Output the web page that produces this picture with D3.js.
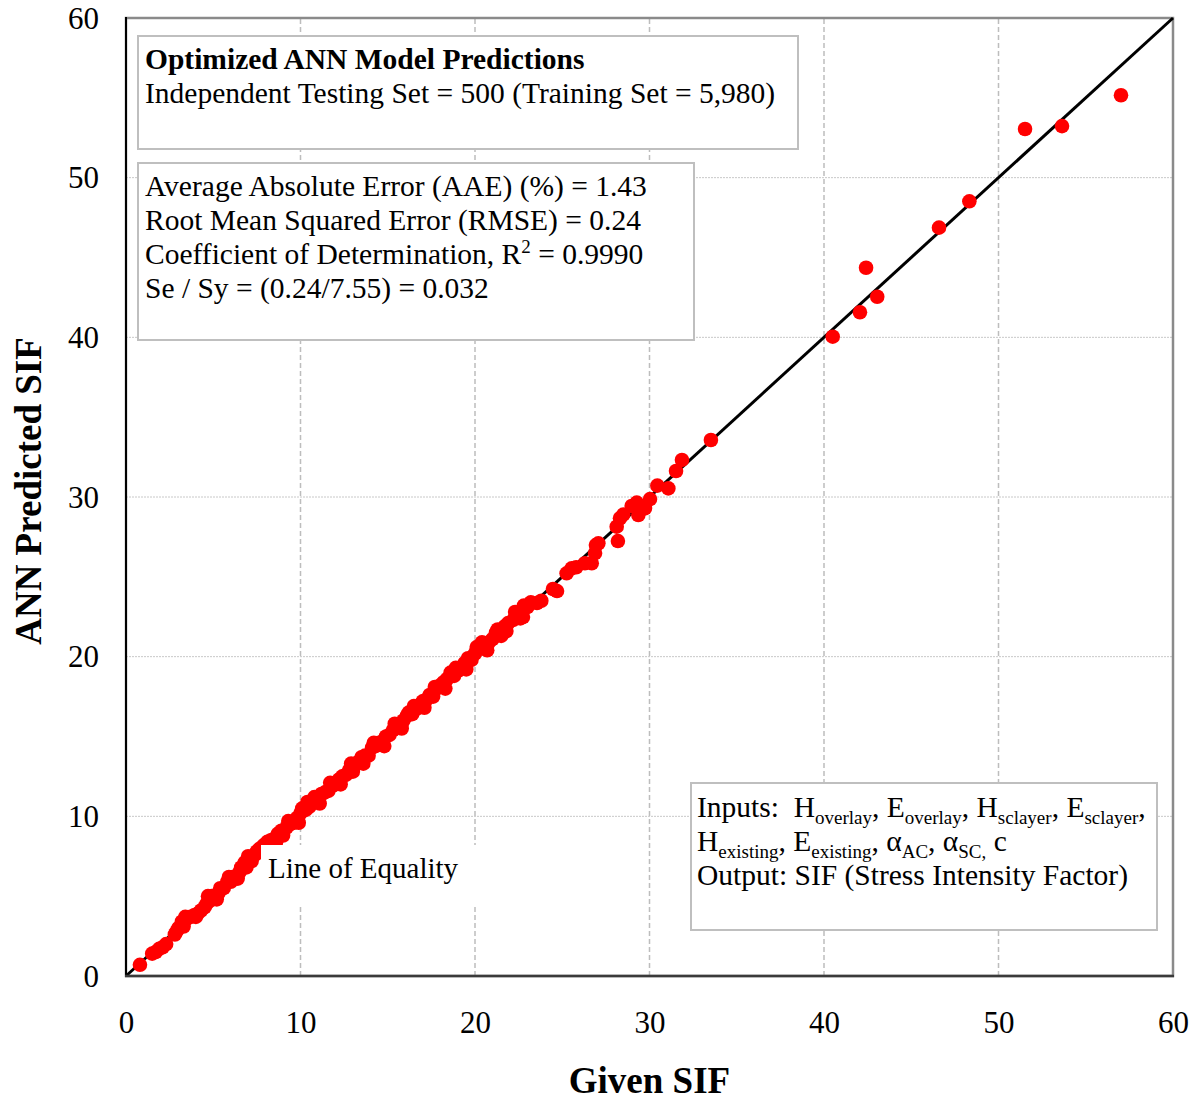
<!DOCTYPE html>
<html>
<head>
<meta charset="utf-8">
<script src="https://cdn.jsdelivr.net/npm/d3@7"></script>
<style>
	body { margin: 0; background: #fff; }
	svg { display: block; font-family: "Times New Roman", "Liberation Serif", serif; }
</style>
</head>
<body>
<svg id="chart" width="1198" height="1101"></svg>
<script>
// [given SIF, ANN predicted SIF] for the testing set
var denseBand = [
	[0.8, 0.7], [1.5, 1.4], [1.7, 1.5], [1.9, 1.7], [2.1, 1.8], [2.3, 2.0],
	[2.8, 2.6], [2.9, 2.8], [3.0, 3.0], [3.2, 3.4], [3.3, 3.1], [3.5, 3.6],
	[3.7, 3.7], [3.9, 3.8], [4.1, 3.9], [4.3, 4.1], [4.5, 4.3], [4.6, 4.5],
	[4.8, 4.7], [4.9, 5.0], [5.1, 4.9], [5.3, 5.2], [5.4, 5.5], [5.6, 5.5],
	[5.8, 5.9], [6.0, 5.9], [6.1, 6.2], [6.3, 6.2], [6.5, 6.5], [6.6, 6.8],
	[6.8, 7.1], [6.9, 6.8], [7.1, 7.4], [7.2, 7.2], [7.4, 7.6], [7.5, 7.8],
	[7.7, 8.0], [7.9, 8.2], [8.1, 8.4], [8.3, 8.5], [8.5, 8.6], [8.7, 8.9],
	[8.9, 9.1], [9.0, 8.8], [9.2, 9.3], [9.4, 9.5], [9.6, 9.6], [9.8, 9.9],
	[10.0, 10.2], [10.1, 10.5], [10.3, 10.4], [10.5, 10.6], [10.7, 10.9], [10.8, 11.2],
	[11.0, 11.1], [11.2, 11.4], [11.4, 11.5], [11.6, 11.6], [11.8, 11.9], [12.0, 12.0],
	[12.2, 12.3], [12.4, 12.5], [12.6, 12.6], [12.8, 12.9], [13.0, 12.8], [13.1, 13.2],
	[13.3, 13.4], [13.5, 13.7], [13.7, 13.8], [13.9, 13.8], [14.1, 14.3], [14.3, 14.4],
	[14.5, 14.6], [14.7, 14.7], [14.9, 15.0], [15.1, 15.1], [15.3, 15.4], [15.5, 15.6],
	[15.7, 15.8], [15.9, 16.0], [16.1, 16.3], [16.2, 16.5], [16.4, 16.4], [16.6, 16.7],
	[16.8, 16.9], [17.0, 17.2], [17.2, 17.3], [17.4, 17.6], [17.6, 17.5], [17.8, 18.0],
	[18.0, 18.2], [18.2, 18.4], [18.4, 18.6], [18.6, 19.0], [18.8, 18.8], [19.0, 19.1],
	[19.2, 19.3], [19.4, 19.6], [19.6, 19.9], [19.8, 19.8], [20.0, 20.2], [20.2, 20.5],
	[20.4, 20.9], [20.6, 20.7], [20.8, 20.9], [21.0, 21.1], [21.2, 21.5], [21.5, 21.3],
	[21.7, 21.9], [21.9, 22.1], [22.2, 22.3], [22.4, 22.6], [22.6, 22.4], [22.8, 23.2]
];
// points sitting a little off the main band, which make it wider
var bandSpread = [
	[3.4, 3.7], [4.0, 3.7], [4.7, 5.0], [5.2, 4.8], [5.9, 6.2], [6.4, 6.1],
	[7.0, 7.5], [7.6, 7.9], [8.6, 8.4], [9.3, 9.7], [9.9, 9.6], [10.4, 10.9],
	[11.1, 10.8], [11.7, 12.1], [12.3, 12.0], [12.9, 13.3], [13.6, 13.3], [14.2, 14.6],
	[14.8, 14.4], [15.4, 15.8], [15.8, 15.5], [16.5, 16.9], [17.1, 16.8], [17.7, 18.1],
	[18.3, 18.0], [18.9, 19.3], [19.5, 19.2], [20.1, 20.6], [20.7, 20.4], [21.3, 21.7],
	[21.8, 21.6], [22.3, 22.8], [23.2, 23.4], [23.8, 23.5]
];
var midRange = [
	[22.75, 22.48], [23.0, 23.1], [23.55, 23.36], [24.47, 24.24], [24.7, 24.11],
	[25.25, 25.22], [25.54, 25.53], [25.8, 25.6], [26.3, 25.85], [26.69, 25.85],
	[26.88, 26.49], [26.93, 26.99], [27.07, 27.1], [28.19, 27.24], [28.12, 28.14],
	[28.31, 28.67], [28.5, 28.9], [28.98, 29.44], [29.27, 29.65], [29.36, 28.87],
	[29.74, 29.29], [30.03, 29.87], [30.45, 30.71], [31.08, 30.54], [31.52, 31.63],
	[31.86, 32.32], [33.52, 33.57]
];
var highRange = [
	[40.5, 40.04], [42.06, 41.57], [42.41, 44.36], [43.05, 42.54], [46.59, 46.87],
	[48.33, 48.52], [51.52, 53.05], [53.64, 53.23], [57.02, 55.16]
];

var xTicks = [0, 10, 20, 30, 40, 50, 60];
var yTicks = [0, 10, 20, 30, 40, 50, 60];
var gridValues = [10, 20, 30, 40, 50];
var equalityEnds = [0, 60];

var headerLines = [
	[{ t: "Optimized ANN Model Predictions", bold: true }],
	[{ t: "Independent Testing Set = 500 (Training Set = 5,980)" }]
];
var statLines = [
	[{ t: "Average Absolute Error (AAE) (%) = 1.43" }],
	[{ t: "Root Mean Squared Error (RMSE) = 0.24" }],
	[{ t: "Coefficient of Determination, R" }, { t: "2", sup: true }, { t: " = 0.9990" }],
	[{ t: "Se / Sy = (0.24/7.55) = 0.032" }]
];
var inputLines = [
	[{ t: "Inputs:  H" }, { t: "overlay", sub: true }, { t: ", E" }, { t: "overlay", sub: true },
		{ t: ", H" }, { t: "sclayer", sub: true }, { t: ", E" }, { t: "sclayer", sub: true }, { t: "," }],
	[{ t: "H" }, { t: "existing", sub: true }, { t: ", E" }, { t: "existing", sub: true },
		{ t: ", \u03b1" }, { t: "AC", sub: true }, { t: ", \u03b1" }, { t: "SC,", sub: true }, { t: " c" }],
	[{ t: "Output: SIF (Stress Intensity Factor)" }]
];

var svg = d3.select("#chart");
var x = d3.scaleLinear().domain([0, 60]).range([126, 1173]);
var y = d3.scaleLinear().domain([0, 60]).range([976, 18]);

// grid
svg.append("g").selectAll("line")
	.data(gridValues)
	.enter()
	.append("line")
	.attr("x1", function(d) { return x(d); })
	.attr("x2", function(d) { return x(d); })
	.attr("y1", y(0))
	.attr("y2", y(60))
	.attr("stroke", "#bdbdbd")
	.attr("stroke-width", 1.5)
	.attr("stroke-dasharray", "5,3");

svg.append("g").selectAll("line")
	.data(gridValues)
	.enter()
	.append("line")
	.attr("x1", x(0))
	.attr("x2", x(60))
	.attr("y1", function(d) { return y(d); })
	.attr("y2", function(d) { return y(d); })
	.attr("stroke", "#c8c8c8")
	.attr("stroke-width", 1)
	.attr("stroke-dasharray", "2,1");

// plot frame
svg.append("rect")
	.attr("x", x(0))
	.attr("y", y(60))
	.attr("width", x(60) - x(0))
	.attr("height", y(0) - y(60))
	.attr("fill", "none")
	.attr("stroke", "#8a8a8a")
	.attr("stroke-width", 2.5);

// line of equality
var line = d3.line()
	.x(function(d) { return x(d); })
	.y(function(d) { return y(d); });
svg.append("path")
	.datum(equalityEnds)
	.attr("d", line)
	.attr("fill", "none")
	.attr("stroke", "#000")
	.attr("stroke-width", 3);

// points
var allPoints = denseBand.concat(bandSpread, midRange, highRange);
svg.append("g").selectAll("circle")
	.data(allPoints)
	.enter()
	.append("circle")
	.attr("cx", function(d) { return x(d[0]); })
	.attr("cy", function(d) { return y(d[1]); })
	.attr("r", 7.3)
	.attr("fill", "#ff0000");

// axes
var xAxis = svg.append("g")
	.attr("transform", "translate(0," + y(0) + ")")
	.call(d3.axisBottom(x).tickValues(xTicks).tickSize(0).tickPadding(35));
var yAxis = svg.append("g")
	.attr("transform", "translate(" + x(0) + ",0)")
	.call(d3.axisLeft(y).tickValues(yTicks).tickSize(0).tickPadding(27));
[xAxis, yAxis].forEach(function(a) {
	a.select(".domain").remove();
	a.selectAll("text")
		.style("font-family", "'Times New Roman', 'Liberation Serif', serif")
		.style("font-size", "31px")
		.attr("fill", "#000");
});
yAxis.selectAll("text").attr("dy", "0.33em");

svg.append("line")
	.attr("x1", x(0)).attr("x2", x(0))
	.attr("y1", y(60) - 1).attr("y2", y(0) + 1)
	.attr("stroke", "#000").attr("stroke-width", 2);
svg.append("line")
	.attr("x1", x(0) - 1).attr("x2", x(60) + 1)
	.attr("y1", y(0)).attr("y2", y(0))
	.attr("stroke", "#3a3a3a").attr("stroke-width", 2.5);

// axis titles
svg.append("text")
	.attr("x", (x(0) + x(60)) / 2)
	.attr("y", 1093)
	.attr("text-anchor", "middle")
	.style("font-size", "37px")
	.style("font-weight", "bold")
	.text("Given SIF");
svg.append("text")
	.attr("transform", "translate(41," + ((y(0) + y(60)) / 2 - 6) + ") rotate(-90)")
	.attr("text-anchor", "middle")
	.style("font-size", "37px")
	.style("font-weight", "bold")
	.text("ANN Predicted SIF");

// text boxes
function writeLines(x0, y0, lines, step) {
	lines.forEach(function(segs, i) {
		var t = svg.append("text")
			.attr("x", x0)
			.attr("y", y0 + i * step)
			.style("font-size", "29.5px")
			.style("white-space", "pre");
		var shift = 0;
		segs.forEach(function(s) {
			var want = s.sub ? 7 : (s.sup ? -11 : 0);
			t.append("tspan")
				.attr("dy", want - shift)
				.style("font-size", (s.sub || s.sup) ? "19px" : null)
				.style("font-weight", s.bold ? "bold" : null)
				.text(s.t);
			shift = want;
		});
	});
}

function box(bx, by, bw, bh) {
	svg.append("rect")
		.attr("x", bx).attr("y", by)
		.attr("width", bw).attr("height", bh)
		.attr("fill", "#fff")
		.attr("stroke", "#bfbfbf")
		.attr("stroke-width", 2);
}

box(138, 36, 660, 113);
writeLines(145, 69, headerLines, 33.5);
box(138, 163, 556, 177);
writeLines(145, 196, statLines, 34);
box(691, 783, 466, 147);
writeLines(697, 817, inputLines, 34);

// line of equality label
svg.append("rect")
	.attr("x", 261).attr("y", 845)
	.attr("width", 220).attr("height", 60)
	.attr("fill", "#fff");
svg.append("text")
	.attr("x", 268)
	.attr("y", 878)
	.style("font-size", "29px")
	.text("Line of Equality");
</script>
</body>
</html>
